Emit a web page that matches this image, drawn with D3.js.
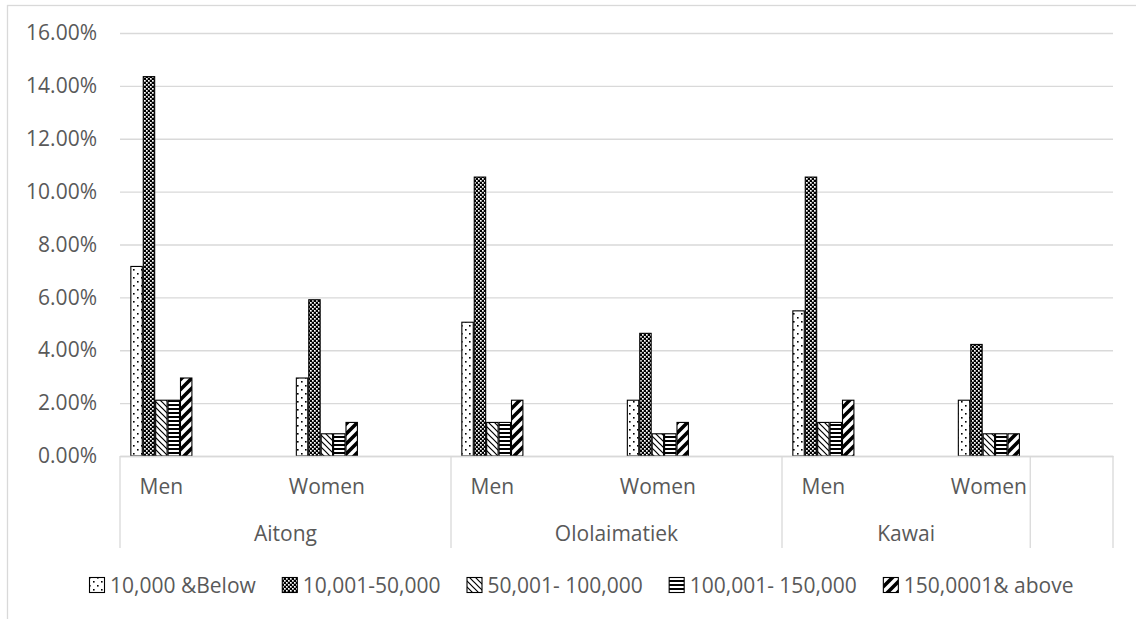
<!DOCTYPE html>
<html>
<head>
<meta charset="utf-8">
<script src="https://cdn.jsdelivr.net/npm/d3@7"></script>
<style>
  html, body { margin: 0; padding: 0; background: #fff; }
  svg { display: block; font-family: "Open Sans", "Noto Sans", sans-serif; }
</style>
</head>
<body>
<svg id="chart" width="1136" height="619"></svg>
<script>
// Income bands by location and sex (share of respondents, %)
const categories = ["Men", "", "Women", "", "Men", "", "Women", "", "Men", "", "Women", ""];
const groupNames = ["Aitong", "Ololaimatiek", "Kawai", ""];
const groupSpans = [4, 4, 3, 1];
const seriesNames = ["10,000 &Below", "10,001-50,000", "50,001- 100,000", "100,001- 150,000", "150,0001& above"];
const below10k   = [7.17, null, 2.95, null, 5.06, null, 2.11, null, 5.49, null, 2.11, null];
const k10to50    = [14.35, null, 5.91, null, 10.55, null, 4.64, null, 10.55, null, 4.22, null];
const k50to100   = [2.11, null, 0.84, null, 1.27, null, 0.84, null, 1.27, null, 0.84, null];
const k100to150  = [2.11, null, 0.84, null, 1.27, null, 0.84, null, 1.27, null, 0.84, null];
const above150k  = [2.95, null, 1.27, null, 2.11, null, 1.27, null, 2.11, null, 0.84, null];
const yTicks = [0, 2, 4, 6, 8, 10, 12, 14, 16];

const seriesValues = [below10k, k10to50, k50to100, k100to150, above150k];
const patternIds = ["pDots", "pCheck", "pDnDiag", "pHorz", "pUpDiag"];

const svg = d3.select("#chart");
const gridColor = "#d9d9d9";
const textColor = "#595959";

// chart frame
svg.append("rect")
  .attr("x", 7.5).attr("y", 5.5)
  .attr("width", 1140).attr("height", 640)
  .attr("fill", "none").attr("stroke", gridColor).attr("stroke-width", 1.3);

// fill patterns
const defs = svg.append("defs");
function pattern(id, w, h) {
  return defs.append("pattern").attr("id", id)
    .attr("patternUnits", "userSpaceOnUse").attr("width", w).attr("height", h);
}
{
  const p = pattern("pDots", 8, 8);
  p.append("rect").attr("width", 8).attr("height", 8).attr("fill", "#fff");
  p.append("rect").attr("x", 1).attr("y", 1).attr("width", 1.6).attr("height", 1.6).attr("fill", "#000");
  p.append("rect").attr("x", 5).attr("y", 5).attr("width", 1.6).attr("height", 1.6).attr("fill", "#000");
}
{
  const p = pattern("pCheck", 4, 4);
  p.append("rect").attr("width", 4).attr("height", 4).attr("fill", "#000");
  p.append("rect").attr("x", 0).attr("y", 0).attr("width", 1.7).attr("height", 1.7).attr("fill", "#fff");
  p.append("rect").attr("x", 2).attr("y", 2).attr("width", 1.7).attr("height", 1.7).attr("fill", "#fff");
}
{
  const p = pattern("pDnDiag", 6, 6);
  p.append("rect").attr("width", 6).attr("height", 6).attr("fill", "#fff");
  p.append("path").attr("d", "M-1,-1L7,7M-1,5L1,7M5,-1L7,1")
    .attr("stroke", "#000").attr("stroke-width", 1.2);
}
{
  const p = pattern("pHorz", 4, 4);
  p.append("rect").attr("width", 4).attr("height", 4).attr("fill", "#fff");
  p.append("rect").attr("y", 0).attr("width", 4).attr("height", 2).attr("fill", "#000");
}
{
  const p = pattern("pUpDiag", 10, 10);
  p.append("rect").attr("width", 10).attr("height", 10).attr("fill", "#fff");
  p.append("path").attr("d", "M-1,11L11,-1M-6,6L6,-6M4,16L16,4")
    .attr("stroke", "#000").attr("stroke-width", 3.6);
}

// scales
const x = d3.scaleBand().domain(d3.range(categories.length)).range([120, 1113]);
const groupWidth = x.bandwidth() * 0.75;
const xInner = d3.scaleBand().domain(d3.range(seriesNames.length)).range([0, groupWidth]);
const y = d3.scaleLinear().domain([0, 16]).range([456, 33]);

// y axis with gridlines
const yAxis = svg.append("g").attr("transform", "translate(120,0)")
  .call(d3.axisLeft(y).tickValues(yTicks).tickFormat(d => d.toFixed(2) + "%")
    .tickSize(-(1113 - 120)).tickPadding(23));
yAxis.select(".domain").remove();
yAxis.selectAll("line").attr("stroke", gridColor).attr("stroke-width", 1.3);
yAxis.selectAll("text").attr("fill", textColor).style("font-size", "21px")
  .style("font-family", "'Open Sans', sans-serif");

// bars
const bars = svg.append("g");
seriesValues.forEach((vals, si) => {
  bars.selectAll(null)
    .data(vals.map((v, ci) => ({ v, ci })).filter(d => d.v != null))
    .enter().append("rect")
    .attr("x", d => x(d.ci) + (x.bandwidth() - groupWidth) / 2 + xInner(si) + 0.5)
    .attr("y", d => y(d.v))
    .attr("width", xInner.bandwidth() - 1)
    .attr("height", d => y(0) - y(d.v))
    .attr("fill", `url(#${patternIds[si]})`)
    .attr("stroke", "#000").attr("stroke-width", 1.1);
});

// category axis
const xAxis = svg.append("g").attr("transform", "translate(0,456)")
  .call(d3.axisBottom(x).tickSize(0).tickPadding(0).tickFormat(i => categories[i]));
xAxis.select(".domain").attr("stroke", gridColor).attr("stroke-width", 1.3);
xAxis.selectAll("text").attr("fill", textColor).style("font-size", "21px")
  .style("font-family", "'Open Sans', sans-serif")
  .attr("y", 38).attr("dy", "0");

// group labels and separators
let start = 0;
const boundaries = [0];
groupNames.forEach((name, gi) => {
  const end = start + groupSpans[gi];
  const x0 = x(start), x1 = end < categories.length ? x(end) : x.range()[1];
  svg.append("text")
    .attr("x", (x0 + x1) / 2).attr("y", 541)
    .attr("text-anchor", "middle").attr("fill", textColor)
    .style("font-size", "21px").text(name);
  boundaries.push(end);
  start = end;
});
svg.append("g").selectAll("line").data(boundaries).enter().append("line")
  .attr("x1", b => b < categories.length ? x(b) : x.range()[1])
  .attr("x2", b => b < categories.length ? x(b) : x.range()[1])
  .attr("y1", 456).attr("y2", 548)
  .attr("stroke", gridColor).attr("stroke-width", 1.3);

// legend
const legend = svg.append("g");
let lx = 89;
seriesNames.forEach((name, si) => {
  legend.append("rect")
    .attr("x", lx + 0.5).attr("y", 577.5).attr("width", 15).attr("height", 15)
    .attr("fill", `url(#${patternIds[si]})`).attr("stroke", "#000").attr("stroke-width", 1.1);
  const t = legend.append("text")
    .attr("x", lx + 21).attr("y", 593)
    .attr("fill", textColor).style("font-size", "21px").text(name);
  lx = lx + 21 + t.node().getComputedTextLength() + 26;
});
</script>
</body>
</html>
